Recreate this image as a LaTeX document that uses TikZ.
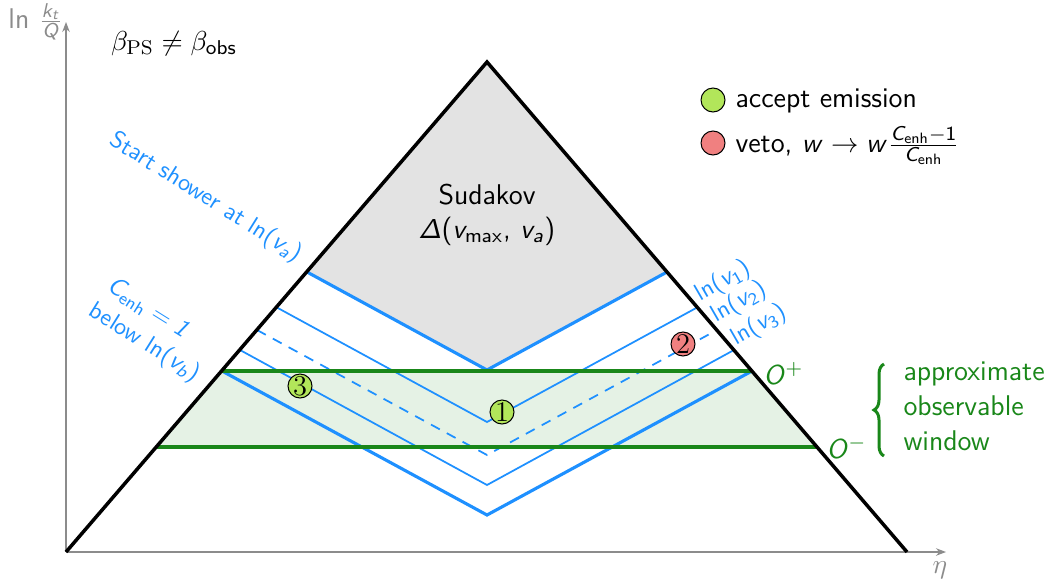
\documentclass[tikz,border=0pt]{standalone}
\usepackage[no-math]{fontspec}
\renewcommand{\familydefault}{\sfdefault}
\DeclareMathAlphabet{\mathsfit}{OT1}{cmss}{m}{sl}
\DeclareMathAlphabet{\mathsfup}{OT1}{cmss}{m}{n}
\usetikzlibrary{arrows.meta,decorations.pathreplacing,calc}
\definecolor{myblue}{RGB}{30,144,255}
\definecolor{mygreen}{RGB}{25,135,25}
\definecolor{greenfill}{RGB}{229,242,229}
\definecolor{sudgray}{RGB}{227,227,227}
\definecolor{axisgray}{RGB}{140,140,140}
\definecolor{accfill}{RGB}{178,230,90}
\definecolor{vetofill}{RGB}{240,128,128}
\begin{document}
\begin{tikzpicture}[x=0.4pt,y=-0.4pt,
  mainfont/.style={font=\fontsize{11.4}{14}\selectfont},
  lblfont/.style={font=\fontsize{9.7}{11.5}\selectfont, text=myblue, inner sep=0pt},
  edge/.style={line width=1.4pt, black, line join=miter},
  thickblue/.style={line width=1.25pt, myblue},
  thinblue/.style={line width=0.7pt, myblue},
  greenline/.style={line width=1.3pt, mygreen},
  axisline/.style={line width=0.45pt, axisgray, -{Stealth[length=4pt,width=3pt]}},
  marker/.style={circle, draw=black, line width=0.4pt, inner sep=0pt, minimum size=9.6pt, font=\rmfamily\fontsize{11.4}{11.4}\selectfont},
  accm/.style={marker, fill=accfill},
  vetom/.style={marker, fill=vetofill}]
\useasboundingbox (0,0) rectangle (1059,587);
% triangle corners
\coordinate (O) at (66,552);
\coordinate (A) at (487,62);
\coordinate (R) at (907,552);
\coordinate (ytip) at (66,22);
\coordinate (xtip) at (946,552);
% V lines
\coordinate (t1) at (307,272); \coordinate (t2) at (487,370); \coordinate (t3) at (667,272);
\coordinate (a1) at (276,307); \coordinate (a2) at (487,422); \coordinate (a3) at (698,307);
\coordinate (b1) at (257,330); \coordinate (b2) at (487,455); \coordinate (b3) at (717,330);
\coordinate (c1) at (240,350); \coordinate (c2) at (487,485); \coordinate (c3) at (734,350);
\coordinate (d1) at (222,371); \coordinate (d2) at (487,515); \coordinate (d3) at (752,371);
% observable window
\coordinate (gp1) at (222,371); \coordinate (gp2) at (752,371);
\coordinate (gm1) at (156,447); \coordinate (gm2) at (818,447);
\fill[greenfill] (gm1) -- (gp1) -- (gp2) -- (gm2) -- cycle;
\fill[sudgray] (A) -- (t1) -- (t2) -- (t3) -- cycle;
% blue lines
\draw[thickblue] (t1) -- (t2) -- (t3);
\draw[thinblue] (a1) -- (a2) -- (a3);
\draw[thinblue, dash pattern=on 4pt off 3.2pt] (b1) -- (b2) -- (b3);
\draw[thinblue] (c1) -- (c2) -- (c3);
\draw[thickblue] (d1) -- (d2) -- (d3);
% green lines
\draw[greenline] (gp1) -- (gp2);
\draw[greenline] (gm1) -- (gm2);
% axes
\draw[axisline] (O) -- (ytip);
\draw[axisline] (O) -- (xtip);
% triangle
\draw[edge] (O) -- (A) -- (R);
% axis labels
\node[mainfont, text=axisgray, anchor=base west, inner sep=0pt] (ylab) at (8,28) {ln $\frac{\mathsfit{k}_{\mathsfit{t}}}{\mathsfit{Q}}$};
\node[mainfont, text=axisgray, inner sep=0pt] (xlab) at (940,570) {$\eta$};
% beta label
\node[mainfont, anchor=base, inner sep=0pt] (beta) at (174,50) {$\beta_{\mathrm{PS}}\neq\beta_{\mathsfup{obs}}$};
% Sudakov
\node[mainfont, anchor=base, inner sep=0pt] (sud1) at (487,204) {Sudakov};
\node[mainfont, anchor=base, inner sep=0pt] (sud2) at (487,238) {$\mathsfit{\Delta}$($\mathsfit{v}_{\mathsfup{max}}$, $\mathsfit{v}_{\mathsfit{a}}$)};
% legend
\node[accm] (la) at (713,100) {};
\node[mainfont, anchor=base west, inner sep=0pt] (lat) at (735,107) {accept emission};
\node[vetom] (lv) at (713,143) {};
\node[mainfont, anchor=base west, inner sep=0pt] (lvt) at (735,152) {veto, $\mathsfit{w}\rightarrow\mathsfit{w}\frac{\mathsfit{C}_{\mathsfup{enh}}-\mathsfup{1}}{\mathsfit{C}_{\mathsfup{enh}}}$};
% blue labels
\node[lblfont, rotate=-32, anchor=base east] (start) at (297,262) {Start shower at ln($\mathsfit{v}_{\mathsfit{a}}$)};
\node[lblfont, rotate=-32, anchor=base east] (below) at (195,382) {below ln($\mathsfit{v}_{\mathsfit{b}}$)};
\node[lblfont, rotate=-32, anchor=base west] (cenh) at ($(below.base west)+(18,-25)$) {$\mathsfit{C}_{\mathsfup{enh}}=\mathsfit{1}$};
\node[lblfont, rotate=30, anchor=base west] (lv1) at (700,302) {ln($\mathsfit{v}_{\mathsfup{1}}$)};
\node[lblfont, rotate=30, anchor=base west] (lv2) at (716,323) {ln($\mathsfit{v}_{\mathsfup{2}}$)};
\node[lblfont, rotate=30, anchor=base west] (lv3) at (736,346) {ln($\mathsfit{v}_{\mathsfup{3}}$)};
% O labels
\node[mainfont, text=mygreen, anchor=west, inner sep=0pt] (op) at (763,373) {$\mathsfit{O}^{+}$};
\node[mainfont, text=mygreen, anchor=west, inner sep=0pt] (om) at (826,447) {$\mathsfit{O}^{-}$};
% brace and window text
\coordinate (bb) at (884,456);
\coordinate (bt) at (884,364);
\draw[decorate, decoration={brace, amplitude=4pt}, mygreen, line width=1.2pt] (bb) -- (bt);
\node[mainfont, text=mygreen, anchor=west, align=left, inner sep=0pt] (win) at (903,406) {approximate\\observable\\window};
% markers
\node[accm] (m1) at (502,412) {1};
\node[vetom] (m2) at (683,344) {2};
\node[accm] (m3) at (300,386) {3};
\end{tikzpicture}
\end{document}
